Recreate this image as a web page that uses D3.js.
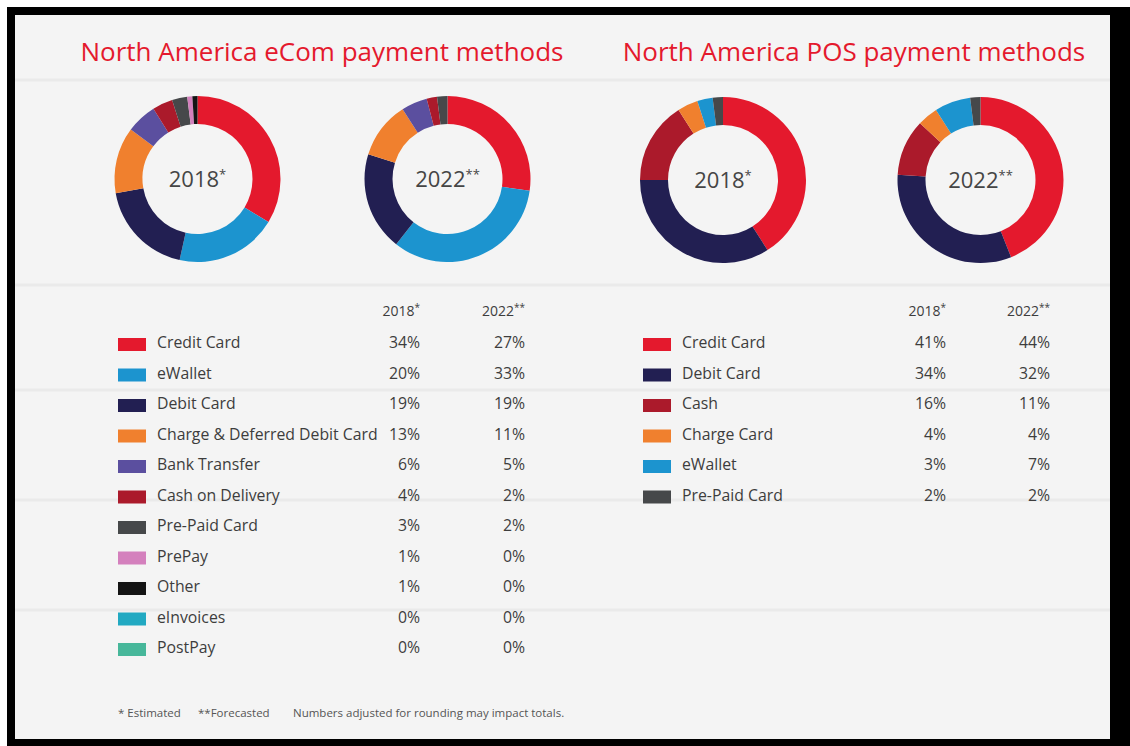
<!DOCTYPE html>
<html>
<head>
<meta charset="utf-8">
<script src="https://cdn.jsdelivr.net/npm/d3@7"></script>
<style>
  html, body { margin: 0; padding: 0; background: #ffffff; }
  svg { display: block; }
  text { font-family: "Open Sans", "Noto Sans", sans-serif; }
</style>
</head>
<body>
<svg id="chart" width="1130" height="746"></svg>
<script>
// ---------- DATA ----------
const ecomCategories = ["Credit Card", "eWallet", "Debit Card", "Charge & Deferred Debit Card",
  "Bank Transfer", "Cash on Delivery", "Pre-Paid Card", "PrePay", "Other", "eInvoices", "PostPay"];
const ecom2018 = [34, 20, 19, 13, 6, 4, 3, 1, 1, 0, 0];
const ecom2022 = [27, 33, 19, 11, 5, 2, 2, 0, 0, 0, 0];
const ecomColors = ["#e4192d", "#1c94cf", "#221f52", "#f0802e", "#5b4f9f", "#ab1a2b",
  "#46484a", "#d480bd", "#141414", "#22a9c2", "#47b79a"];

const posCategories = ["Credit Card", "Debit Card", "Cash", "Charge Card", "eWallet", "Pre-Paid Card"];
const pos2018 = [41, 34, 16, 4, 3, 2];
const pos2022 = [44, 32, 11, 4, 7, 2];
const posColors = ["#e4192d", "#221f52", "#ab1a2b", "#f0802e", "#1c94cf", "#46484a"];

const yearLabels = ["2018", "2022"];
const yearMarks = ["*", "**"];
const titles = ["North America eCom payment methods", "North America POS payment methods"];
const footnotes = ["* Estimated", "**Forecasted", "Numbers adjusted for rounding may impact totals."];

// ---------- DRAW ----------
const svg = d3.select("#chart");

// frame
svg.append("rect").attr("x", 7).attr("y", 7).attr("width", 1123).attr("height", 739).attr("fill", "#000");
svg.append("rect").attr("x", 15).attr("y", 15).attr("width", 1095).attr("height", 724).attr("fill", "#f4f4f4");

// very faint brick mortar texture
const brick = svg.append("g").attr("stroke", "#e6e6e6").attr("stroke-width", 3).attr("fill", "none").attr("opacity", 0.7);
const rowsY = [80, 285, 390, 500, 610];
rowsY.forEach(y => brick.append("line").attr("x1", 15).attr("x2", 1110).attr("y1", y).attr("y2", y));

const pie = d3.pie().sort(null).value(d => d.v);
const arc = d3.arc().innerRadius(55).outerRadius(83);

function donut(cx, cy, values, colors, yi) {
  const g = svg.append("g").attr("transform", `translate(${cx},${cy})`);
  const data = values.map((v, i) => ({ v, c: colors[i] })).filter(d => d.v > 0);
  g.selectAll("path").data(pie(data)).join("path")
    .attr("d", arc).attr("fill", d => d.data.c);
  const t = g.append("text").attr("text-anchor", "middle").attr("y", 8)
    .attr("fill", "#454545").attr("font-size", 22).attr("font-weight", 400);
  t.append("tspan").text(yearLabels[yi]);
  t.append("tspan").text(yearMarks[yi]).attr("font-size", 13).attr("dy", -8);
}

donut(197.5, 179, ecom2018, ecomColors, 0);
donut(447.5, 179, ecom2022, ecomColors, 1);
donut(723, 180, pos2018, posColors, 0);
donut(980.5, 180, pos2022, posColors, 1);

// titles
svg.append("text").attr("x", 322).attr("y", 61).attr("text-anchor", "middle")
  .attr("fill", "#e4192d").attr("font-size", 26).text(titles[0]);
svg.append("text").attr("x", 854).attr("y", 61).attr("text-anchor", "middle")
  .attr("fill", "#e4192d").attr("font-size", 26).text(titles[1]);

// tables
const rowY = d3.scalePoint().domain(d3.range(11)).range([342, 647]);

function table(cats, v18, v22, colors, swX, txX, c1X, c2X) {
  const g = svg.append("g").attr("font-size", 15.8).attr("fill", "#3d3d3d");
  [[c1X, 0], [c2X, 1]].forEach(([x, yi]) => {
    const h = g.append("text").attr("x", x).attr("y", rowY(0) - 26).attr("text-anchor", "end").attr("font-size", 14);
    h.append("tspan").text(yearLabels[yi]);
    h.append("tspan").text(yearMarks[yi]).attr("font-size", 10).attr("dy", -5);
  });
  cats.forEach((c, i) => {
    const y = rowY(i);
    g.append("rect").attr("x", swX).attr("y", y - 4).attr("width", 28).attr("height", 13).attr("fill", colors[i]);
    g.append("text").attr("x", txX).attr("y", y + 6).text(c);
    g.append("text").attr("x", c1X).attr("y", y + 6).attr("text-anchor", "end").text(v18[i] + "%");
    g.append("text").attr("x", c2X).attr("y", y + 6).attr("text-anchor", "end").text(v22[i] + "%");
  });
}

table(ecomCategories, ecom2018, ecom2022, ecomColors, 118, 157, 420, 525);
table(posCategories, pos2018, pos2022, posColors, 643, 682, 946, 1050);

// footnotes
const fx = [118, 198, 293];
footnotes.forEach((f, i) => {
  svg.append("text").attr("x", fx[i]).attr("y", 717).attr("font-size", 11.5)
    .attr("fill", "#555").text(f);
});
</script>
</body>
</html>
